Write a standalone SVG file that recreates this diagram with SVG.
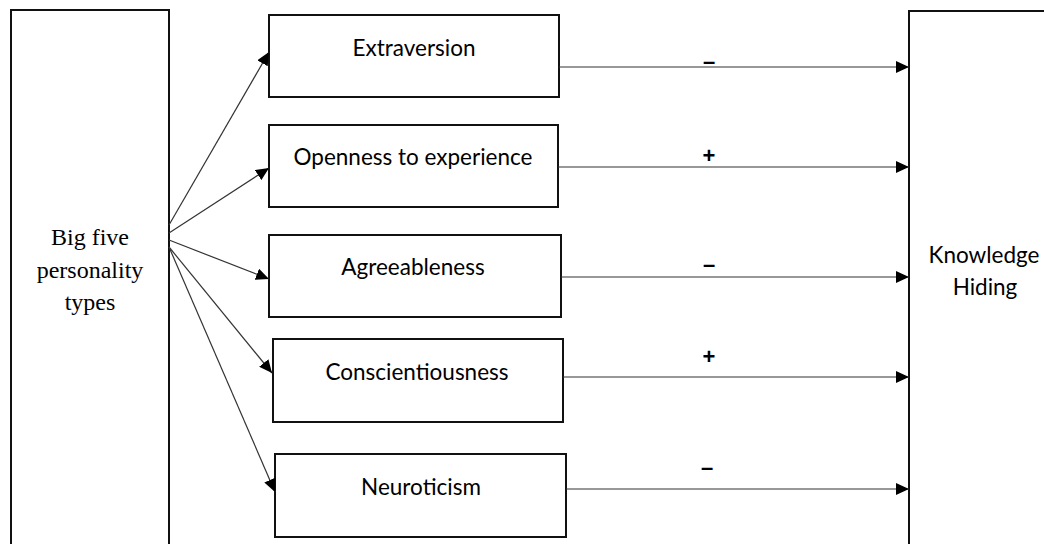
<svg xmlns="http://www.w3.org/2000/svg" width="1044" height="544" viewBox="0 0 1044 544">
<defs>
<marker id="ah" markerUnits="userSpaceOnUse" markerWidth="14" markerHeight="12" refX="13" refY="6" orient="auto" viewBox="0 0 14 12">
<path d="M0,0 L13,6 L0,12 Z" fill="#000"/>
</marker>
<style>
.box{fill:#fff;stroke:#111;stroke-width:2}
.lbl{font-family:Lato,"Open Sans",sans-serif;font-size:22.5px;fill:#000;text-anchor:middle}
.ser{font-family:"Liberation Serif","Times New Roman",serif;font-size:24px;fill:#000;text-anchor:middle}
.con{stroke:#333;stroke-width:1.2;fill:none;marker-end:url(#ah)}
.sgn{font-family:"Liberation Sans",Arial,sans-serif;font-size:22px;font-weight:bold;fill:#000;text-anchor:middle}
</style>
</defs>
<rect width="1044" height="544" fill="#fff"/>
<g id="big-five">
<rect class="box" x="11" y="10" width="158" height="560"/>
<text class="ser" x="90" y="245">Big five</text>
<text class="ser" x="90" y="278">personality</text>
<text class="ser" x="90" y="310">types</text>
</g>
<g id="knowledge-hiding">
<rect class="box" x="909" y="11" width="200" height="560"/>
<text class="lbl" x="984" y="263">Knowledge</text>
<text class="lbl" x="985" y="295">Hiding</text>
</g>
<g id="extraversion">
<rect class="box" x="269" y="15" width="290" height="82"/>
<text class="lbl" x="414" y="56">Extraversion</text>
</g>
<g id="openness">
<rect class="box" x="269" y="125" width="289" height="82"/>
<text class="lbl" x="413" y="165">Openness to experience</text>
</g>
<g id="agreeableness">
<rect class="box" x="269" y="235" width="292" height="82"/>
<text class="lbl" x="413" y="275">Agreeableness</text>
</g>
<g id="conscientiousness">
<rect class="box" x="273" y="339" width="290" height="83"/>
<text class="lbl" x="417" y="380">Conscientiousness</text>
</g>
<g id="neuroticism">
<rect class="box" x="275" y="454" width="291" height="83"/>
<text class="lbl" x="421" y="495">Neuroticism</text>
</g>
<g id="connectors">
<line class="con" x1="169" y1="225" x2="269" y2="52"/>
<line class="con" x1="169" y1="233" x2="269" y2="168"/>
<line class="con" x1="169" y1="240" x2="269" y2="279"/>
<line class="con" x1="169" y1="247" x2="272" y2="373"/>
<line class="con" x1="169" y1="247" x2="275" y2="492"/>
<line class="con" x1="559" y1="67" x2="909" y2="67"/>
<line class="con" x1="558" y1="167" x2="909" y2="167"/>
<line class="con" x1="561" y1="277" x2="909" y2="277"/>
<line class="con" x1="563" y1="377" x2="909" y2="377"/>
<line class="con" x1="566" y1="489" x2="909" y2="489"/>
<text class="sgn" x="709" y="69">–</text>
<text class="sgn" x="709" y="163">+</text>
<text class="sgn" x="709" y="272">–</text>
<text class="sgn" x="709" y="364">+</text>
<text class="sgn" x="707" y="475">–</text>
</g>
</svg>
